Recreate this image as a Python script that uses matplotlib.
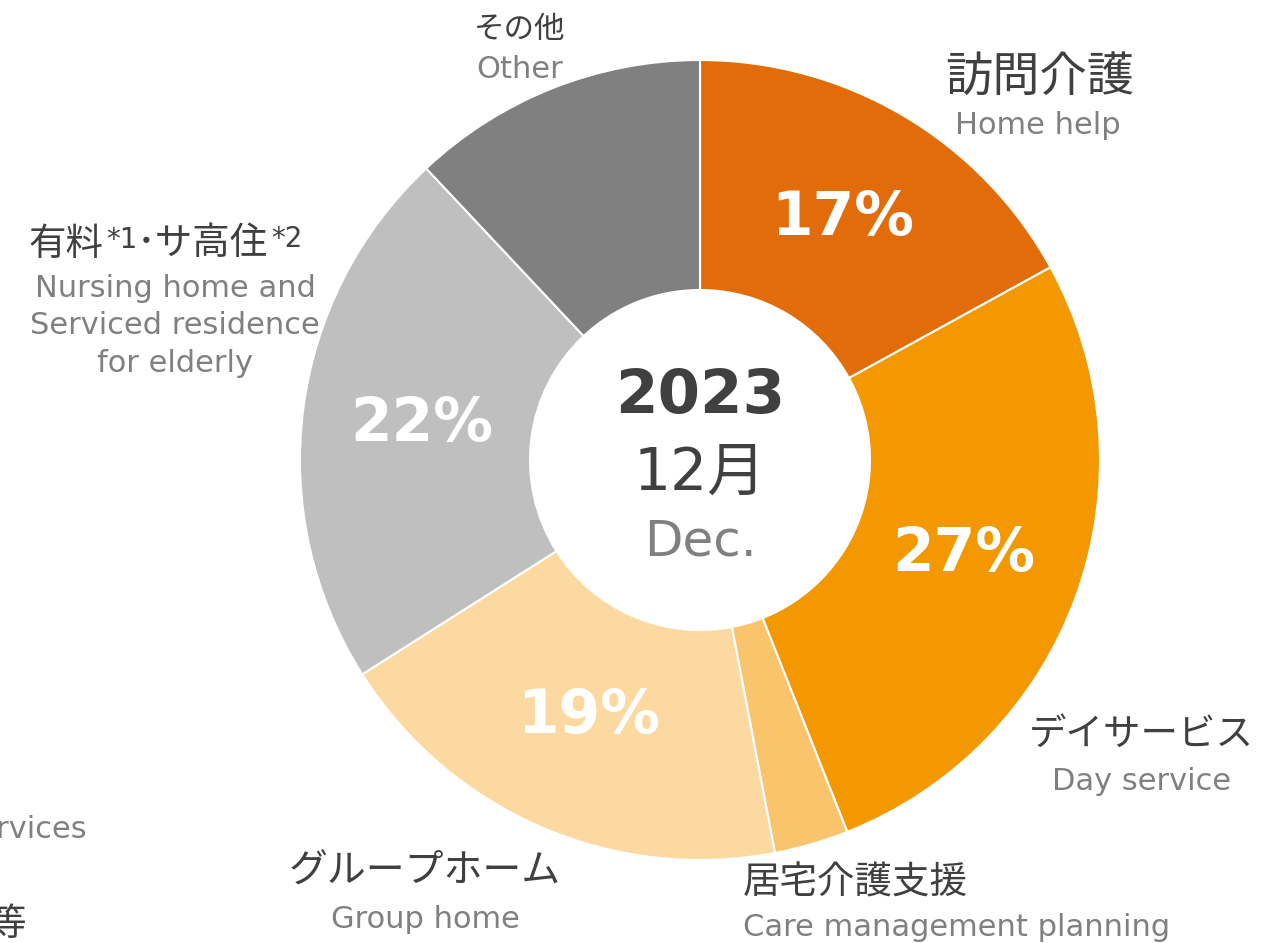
import matplotlib
matplotlib.use('Agg')
import matplotlib.pyplot as plt

plt.rcParams['font.family'] = ['DejaVu Sans', 'Noto Sans CJK JP']

# data (clockwise from top)
labels_jp = ['訪問介護', 'デイサービス', '居宅介護支援', 'グループホーム', '有料・サ高住', 'その他']
labels_en = ['Home help', 'Day service', 'Care management planning', 'Group home',
             'Nursing home and\nServiced residence\nfor elderly', 'Other']
shares = [17, 27, 3, 19, 22, 12]
colors = ['#E36C0A', '#F39800', '#FAC46C', '#FCD9A0', '#BFBFBF', '#808080']

DARK = '#404040'
GRAY = '#808080'
W, H = 1263, 943

fig = plt.figure(figsize=(W / 100, H / 100), dpi=100)
ax = fig.add_axes([0, 0, 1, 1])


def Y(y):
    # pixel row -> data y
    return H - y


wedges, texts, autotexts = ax.pie(
    shares, startangle=90, counterclock=False, colors=colors,
    radius=400, center=(700, Y(460)),
    wedgeprops=dict(width=230, edgecolor='white', linewidth=1.5),
    autopct=lambda p: f'{p:.0f}%' if p > 15 else '', pctdistance=0.70)
for t in autotexts:
    t.set_color('white')
    t.set_fontsize(43)
    t.set_fontweight('bold')

ax.set_xlim(0, W)
ax.set_ylim(0, H)
ax.set_aspect('equal')
ax.axis('off')

# center text
ax.text(700, Y(396), '2023', ha='center', va='center', fontsize=44, fontweight='bold', color=DARK)
ax.text(700, Y(473), '12月', ha='center', va='center', fontsize=42, color=DARK)
ax.text(700, Y(542), 'Dec.', ha='center', va='center', fontsize=36, color=GRAY)

# category labels
ax.text(1040, Y(78), labels_jp[0], ha='center', va='center', fontsize=34, color=DARK)
ax.text(1038, Y(126), labels_en[0], ha='center', va='center', fontsize=22, color=GRAY)

ax.text(1141, Y(735), labels_jp[1], ha='center', va='center', fontsize=27, color=DARK)
ax.text(1142, Y(781), labels_en[1], ha='center', va='center', fontsize=22, color=GRAY)

ax.text(743, Y(884), labels_jp[2], ha='left', va='center', fontsize=27, color=DARK)
ax.text(743, Y(927), labels_en[2], ha='left', va='center', fontsize=22, color=GRAY)

ax.text(425, Y(872), labels_jp[3], ha='center', va='center', fontsize=28, color=DARK)
ax.text(425, Y(919), labels_en[3], ha='center', va='center', fontsize=22, color=GRAY)

# 有料*1･サ高住*2 with superscripts, chained left to right
t1 = ax.text(28, Y(245), '有料', ha='left', va='center', fontsize=27, color=DARK)
t2 = ax.annotate('*1', xy=(1, 0.64), xycoords=t1, xytext=(2, 0), textcoords='offset points',
                 ha='left', va='center', fontsize=20, color=DARK)
t3 = ax.annotate('･サ高住', xy=(1, 0.36), xycoords=t2, xytext=(0, 0), textcoords='offset points',
                 ha='left', va='center', fontsize=27, color=DARK)
ax.annotate('*2', xy=(1, 0.64), xycoords=t3, xytext=(2, 0), textcoords='offset points',
            ha='left', va='center', fontsize=20, color=DARK)
ax.text(175, Y(326), labels_en[4], ha='center', va='center', fontsize=22, color=GRAY,
        linespacing=1.38)

ax.text(520, Y(29), labels_jp[5], ha='center', va='center', fontsize=22, color=DARK)
ax.text(520, Y(70), labels_en[5], ha='center', va='center', fontsize=22, color=GRAY)

# clipped labels of neighbouring chart
ax.text(87, Y(830), 'Other services', ha='right', va='center', fontsize=22, color=GRAY)
ax.text(27, Y(925), 'サービス等', ha='right', va='center', fontsize=27, color=DARK)

fig.savefig('out.png', dpi=100)
